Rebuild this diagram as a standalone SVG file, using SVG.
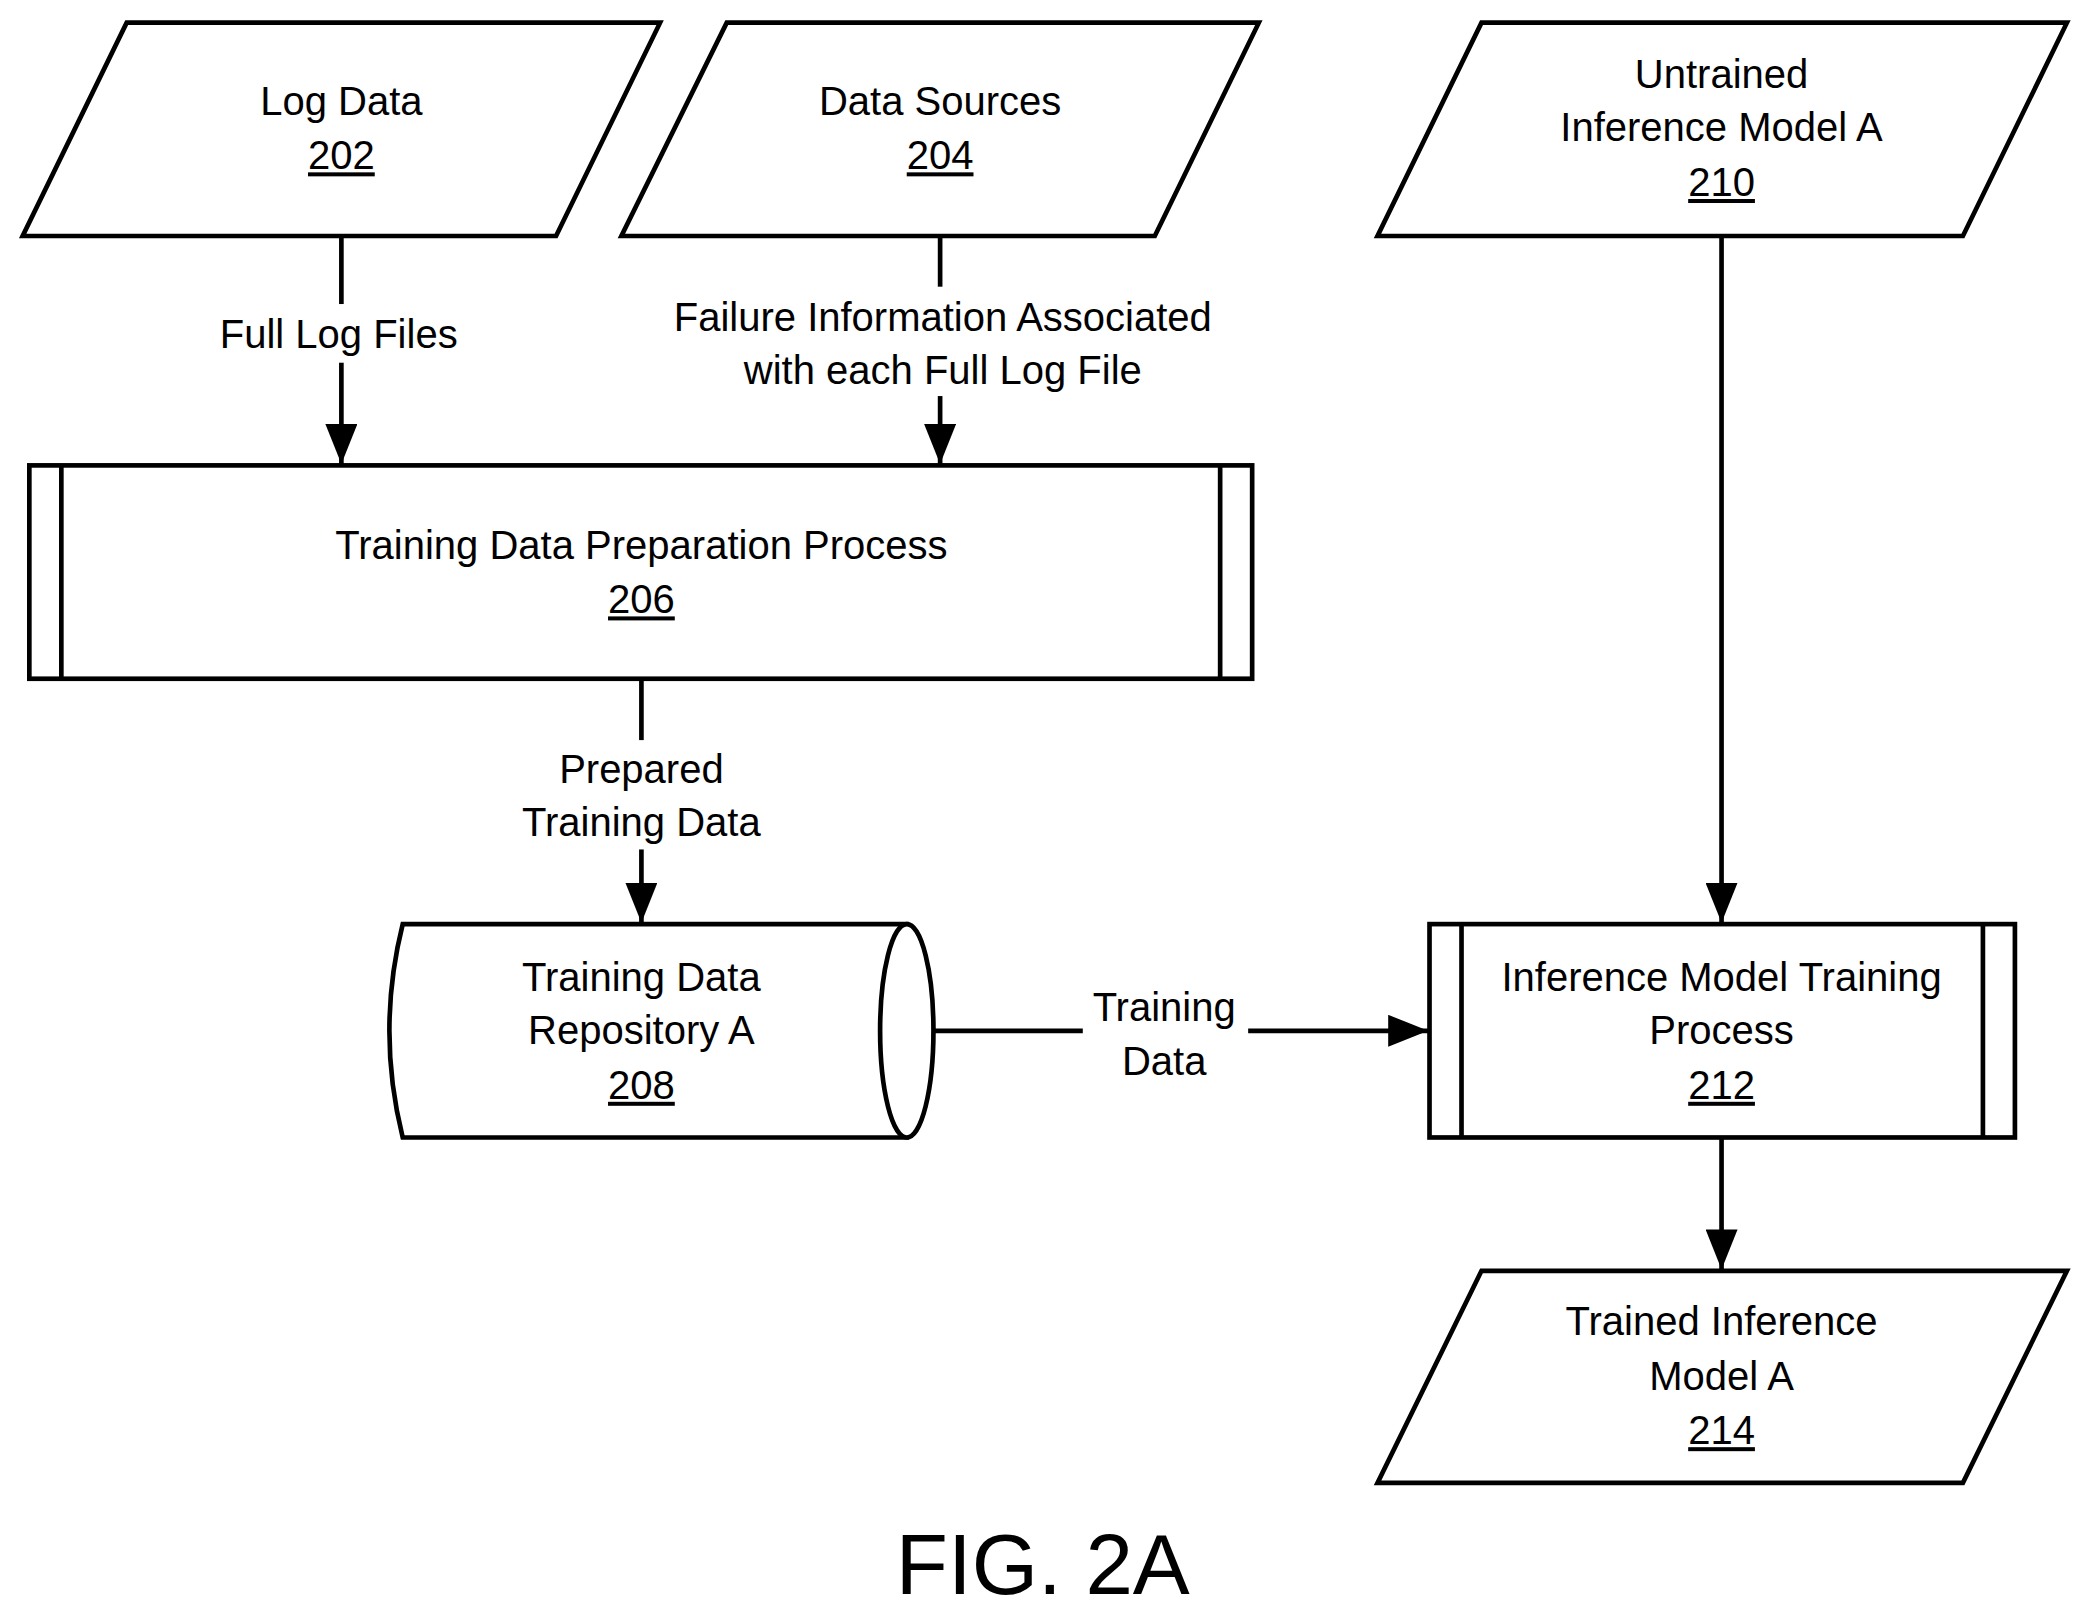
<svg xmlns="http://www.w3.org/2000/svg" width="2091" height="1614" viewBox="0 0 2091 1614">
<style>
.s{fill:#fff;stroke:#000;stroke-width:3.5}
.l{fill:none;stroke:#000;stroke-width:3.5}
text{font-family:Arial,"Liberation Sans",sans-serif;font-size:30px;text-anchor:middle;fill:#000}
.u{text-decoration:underline}
</style>
<defs>
<marker id="a" markerUnits="userSpaceOnUse" markerWidth="32" markerHeight="24" refX="30" refY="12" orient="auto">
<path d="M0,0 L30,12 L0,24 Z" fill="#000"/>
</marker>
</defs>
<rect width="2091" height="1614" fill="#fff"/>
<g transform="scale(1.3335)">
<g id="n202"><polygon class="s" points="95,17 495,17 417,177 17,177"/><text x="256" y="86">Log Data</text><text x="256" y="127" class="u">202</text></g>
<g id="n204"><polygon class="s" points="545,17 944,17 866,177 466,177"/><text x="705" y="86">Data Sources</text><text x="705" y="127" class="u">204</text></g>
<g id="n210"><polygon class="s" points="1111,17 1550,17 1472,177 1033,177"/><text x="1291" y="66">Untrained</text><text x="1291" y="106">Inference Model A</text><text x="1291" y="147" class="u">210</text></g>
<g id="n206"><rect class="s" x="22" y="349" width="917" height="160"/><line class="l" x1="46" y1="349" x2="46" y2="509"/><line class="l" x1="915" y1="349" x2="915" y2="509"/><text x="481" y="419">Training Data Preparation Process</text><text x="481" y="460" class="u">206</text></g>
<g id="n208"><path class="s" d="M302,693 L680,693 L680,853 L302,853 Q282,773 302,693 Z"/><ellipse class="s" cx="680" cy="773" rx="20" ry="80"/><text x="481" y="743">Training Data</text><text x="481" y="783">Repository A</text><text x="481" y="824" class="u">208</text></g>
<g id="n212"><rect class="s" x="1072" y="693" width="439" height="160"/><line class="l" x1="1096" y1="693" x2="1096" y2="853"/><line class="l" x1="1487" y1="693" x2="1487" y2="853"/><text x="1291" y="743">Inference Model Training</text><text x="1291" y="783">Process</text><text x="1291" y="824" class="u">212</text></g>
<g id="n214"><polygon class="s" points="1111,953 1550,953 1472,1112 1033,1112"/><text x="1291" y="1001">Trained Inference</text><text x="1291" y="1042">Model A</text><text x="1291" y="1083" class="u">214</text></g>
<g id="connectors">
<line class="l" x1="256" y1="177" x2="256" y2="228"/><line class="l" x1="256" y1="272" x2="256" y2="348" marker-end="url(#a)"/>
<text x="254" y="261">Full Log Files</text>
<line class="l" x1="705" y1="177" x2="705" y2="215"/><line class="l" x1="705" y1="297" x2="705" y2="348" marker-end="url(#a)"/>
<text x="707" y="248">Failure Information Associated</text><text x="707" y="288">with each Full Log File</text>
<line class="l" x1="481" y1="509" x2="481" y2="555"/><line class="l" x1="481" y1="637" x2="481" y2="692" marker-end="url(#a)"/>
<text x="481" y="587">Prepared</text><text x="481" y="627">Training Data</text>
<line class="l" x1="700" y1="773" x2="812" y2="773"/><line class="l" x1="936" y1="773" x2="1071" y2="773" marker-end="url(#a)"/>
<text x="873" y="766">Training</text><text x="873" y="806">Data</text>
<line class="l" x1="1291" y1="177" x2="1291" y2="692" marker-end="url(#a)"/>
<line class="l" x1="1291" y1="853" x2="1291" y2="952" marker-end="url(#a)"/>
</g>
<text x="782" y="1195" style="font-size:64px">FIG. 2A</text>
</g>
</svg>
